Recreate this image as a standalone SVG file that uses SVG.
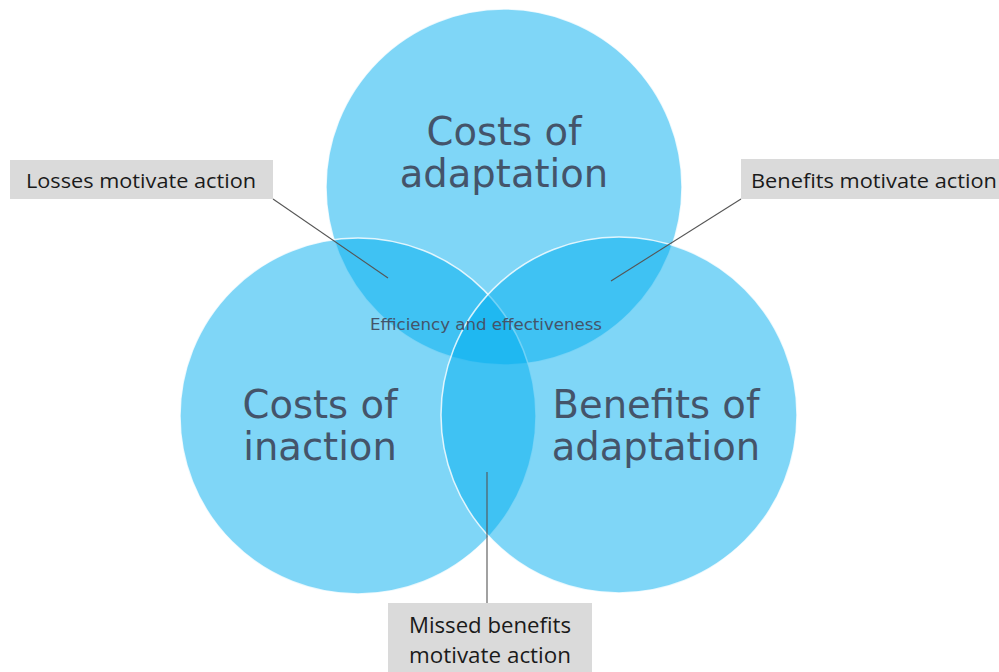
<svg xmlns="http://www.w3.org/2000/svg" width="999" height="672" viewBox="0 0 999 672">
  <style>
    .set { fill: #00aeef; fill-opacity: 0.5; stroke: #ffffff; stroke-opacity: 0.8; stroke-width: 1.5; }
    .big { font-family: "DejaVu Sans", Verdana, sans-serif; font-size: 38.5px; fill: #44546a; text-anchor: middle; }
    .small { font-family: "DejaVu Sans", Verdana, sans-serif; font-size: 16px; fill: #44546a; text-anchor: middle; }
    .box { fill: #dadada; }
    .lbl { font-family: "Open Sans", "Liberation Sans", Arial, sans-serif; font-size: 20px; fill: #1a1a1a; }
    .lbl2 { font-family: "Open Sans", "Liberation Sans", Arial, sans-serif; font-size: 21.5px; fill: #1a1a1a; text-anchor: middle; }
    .lead { stroke: #555555; stroke-width: 1.1; fill: none; }
  </style>
  <rect width="999" height="672" fill="#ffffff"/>

  <g id="costs-of-adaptation">
    <circle class="set" cx="504" cy="187" r="178"/>
  </g>
  <g id="costs-of-inaction">
    <circle class="set" cx="358" cy="416" r="178"/>
  </g>
  <g id="benefits-of-adaptation">
    <circle class="set" cx="619" cy="415" r="178"/>
  </g>

  <g id="set-titles">
    <text class="big" x="504" y="145">Costs of</text>
    <text class="big" x="504" y="187">adaptation</text>
    <text class="big" x="320" y="418">Costs of</text>
    <text class="big" x="320" y="460">inaction</text>
    <text class="big" x="656" y="418">Benefits of</text>
    <text class="big" x="656" y="460">adaptation</text>
  </g>

  <g id="centre">
    <text class="small" x="486" y="330" textLength="232" lengthAdjust="spacingAndGlyphs">Efficiency and effectiveness</text>
  </g>

  <g id="connectors">
    <line class="lead" x1="273" y1="199" x2="388" y2="278"/>
    <line class="lead" x1="741" y1="199" x2="611" y2="281"/>
    <line class="lead" x1="487" y1="472" x2="487" y2="603"/>
  </g>

  <g id="losses-label">
    <rect class="box" x="10" y="160" width="263" height="39"/>
    <text class="lbl" x="26" y="188" textLength="230" lengthAdjust="spacingAndGlyphs">Losses motivate action</text>
  </g>
  <g id="benefits-label">
    <rect class="box" x="741" y="159" width="258" height="40"/>
    <text class="lbl" x="751" y="188" textLength="246" lengthAdjust="spacingAndGlyphs">Benefits motivate action</text>
  </g>
  <g id="missed-label">
    <rect class="box" x="388" y="603" width="204" height="69"/>
    <text class="lbl2" x="490" y="633" textLength="162" lengthAdjust="spacingAndGlyphs">Missed benefits</text>
    <text class="lbl2" x="490" y="663" textLength="162" lengthAdjust="spacingAndGlyphs">motivate action</text>
  </g>
</svg>
